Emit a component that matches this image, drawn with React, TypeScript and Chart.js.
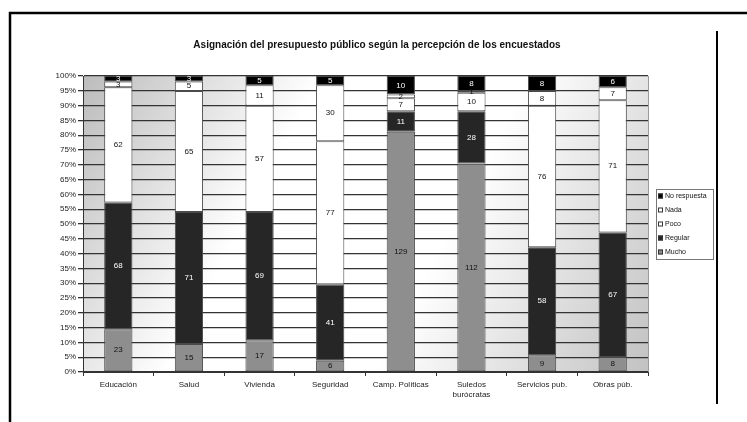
import { useEffect, useRef } from "react";
import { Chart, registerables } from "chart.js";

Chart.register(...registerables);

// Survey answers per budget item (counts of respondents)
const categories: string[][] = [
  ["Educación"],
  ["Salud"],
  ["Vivienda"],
  ["Seguridad"],
  ["Camp. Políticas"],
  ["Suledos", "burócratas"],
  ["Servicios pub."],
  ["Obras púb."],
];
const mucho = [23, 15, 17, 6, 129, 112, 9, 8];
const regular = [68, 71, 69, 41, 11, 28, 58, 67];
const poco = [62, 65, 57, 77, 7, 10, 76, 71];
const nada = [3, 5, 11, 30, 2, 1, 8, 7];
const noRespuesta = [3, 3, 5, 5, 10, 8, 8, 6];

const seriesNames = ["Mucho", "Regular", "Poco", "Nada", "No respuesta"];
const seriesColors = ["#8e8e8e", "#262626", "#ffffff", "#ffffff", "#000000"];
const labelColors = ["#111111", "#ffffff", "#111111", "#111111", "#ffffff"];

const TITLE = "Asignación del presupuesto público según la percepción de los encuestados";
const FONT = "Arial, 'Liberation Sans', sans-serif";

export default function App() {
  const canvasRef = useRef<HTMLCanvasElement | null>(null);

  useEffect(() => {
    const canvas = canvasRef.current;
    if (!canvas) return;

    const series = [mucho, regular, poco, nada, noRespuesta];
    const totals = categories.map((_, i) => series.reduce((s, arr) => s + arr[i], 0));
    const toPct = (arr: number[]) => arr.map((v, i) => (v / totals[i]) * 100);

    // Gradient plot background plus the outer frame lines
    const backgroundPlugin = {
      id: "plotBackground",
      beforeDraw(chart: any) {
        const { ctx, chartArea: a } = chart;
        ctx.save();
        ctx.fillStyle = "#ffffff";
        ctx.fillRect(0, 0, chart.width, chart.height);
        const g = ctx.createLinearGradient(a.left, a.top, a.right, a.bottom);
        g.addColorStop(0, "#bcbcbc");
        g.addColorStop(0.33, "#ffffff");
        g.addColorStop(0.62, "#ffffff");
        g.addColorStop(1, "#c2c2c2");
        ctx.fillStyle = g;
        ctx.fillRect(a.left, a.top, a.right - a.left, a.bottom - a.top);

        ctx.strokeStyle = "#000";
        ctx.lineWidth = 2.5;
        ctx.beginPath();
        ctx.moveTo(10, 422);
        ctx.lineTo(10, 13);
        ctx.lineTo(747, 13);
        ctx.stroke();
        ctx.lineWidth = 2;
        ctx.beginPath();
        ctx.moveTo(717, 31);
        ctx.lineTo(717, 404);
        ctx.stroke();

        ctx.fillStyle = "#111";
        ctx.font = `bold 10px 'Liberation Sans Narrow', 'Arial Narrow', ${FONT}`;
        ctx.textAlign = "center";
        ctx.textBaseline = "middle";
        ctx.fillText(TITLE, 377, 45);
        ctx.restore();
      },
      afterDraw(chart: any) {
        const { ctx, chartArea: a } = chart;
        ctx.save();
        ctx.strokeStyle = "#9a9a9a";
        ctx.lineWidth = 1;
        ctx.beginPath();
        ctx.moveTo(a.right + 0.5, a.top);
        ctx.lineTo(a.right + 0.5, a.bottom);
        ctx.stroke();

        // Legend box, series listed top to bottom in stack order
        const lx = 656, ly = 189, lw = 57, lh = 70;
        ctx.fillStyle = "#fff";
        ctx.fillRect(lx, ly, lw, lh);
        ctx.strokeStyle = "#777";
        ctx.strokeRect(lx + 0.5, ly + 0.5, lw, lh);
        ctx.font = `7px ${FONT}`;
        ctx.textAlign = "left";
        ctx.textBaseline = "middle";
        for (let k = 0; k < 5; k++) {
          const s = 4 - k;
          const y = ly + 7 + k * 14;
          ctx.fillStyle = seriesColors[s];
          ctx.fillRect(lx + 2, y - 2.5, 5, 5);
          ctx.strokeStyle = "#333";
          ctx.strokeRect(lx + 2.5, y - 2, 4, 4);
          ctx.fillStyle = "#111";
          ctx.fillText(seriesNames[s], lx + 9, y);
        }
        ctx.restore();
      },
    };

    // Count labels in the middle of each segment
    const valueLabels = {
      id: "valueLabels",
      afterDatasetsDraw(chart: any) {
        const { ctx } = chart;
        ctx.save();
        ctx.font = `8px ${FONT}`;
        ctx.textAlign = "center";
        ctx.textBaseline = "middle";
        chart.data.datasets.forEach((ds: any, di: number) => {
          const meta = chart.getDatasetMeta(di);
          meta.data.forEach((bar: any, i: number) => {
            const cy = (bar.y + bar.base) / 2;
            ctx.fillStyle = labelColors[di];
            ctx.fillText(String(series[di][i]), bar.x, cy);
          });
        });
        ctx.restore();
      },
    };

    const chart = new Chart(canvas, {
      type: "bar",
      data: {
        labels: categories,
        datasets: series.map((arr, si) => ({
          label: seriesNames[si],
          data: toPct(arr),
          backgroundColor: seriesColors[si],
          borderColor: "#4a4a4a",
          borderWidth: 1,
          borderSkipped: false,
          barPercentage: 0.4,
          categoryPercentage: 1,
        })),
      },
      options: {
        responsive: false,
        animation: false,
        layout: { padding: { left: 43, top: 76, right: 99, bottom: 10 } },
        plugins: {
          legend: { display: false },
          title: { display: false },
          tooltip: { enabled: false },
        },
        scales: {
          x: {
            stacked: true,
            afterFit(scale: any) {
              scale.height = 40;
            },
            grid: {
              offset: true,
              drawOnChartArea: false,
              drawTicks: true,
              tickLength: 4,
              color: "#333",
            },
            border: { display: true, color: "#333", width: 1 },
            ticks: {
              color: "#222",
              font: { size: 8, family: FONT },
              padding: 4,
              maxRotation: 0,
              autoSkip: false,
            },
          },
          y: {
            stacked: true,
            min: 0,
            max: 100,
            afterFit(scale: any) {
              scale.width = 40;
            },
            grid: {
              color: "#333",
              lineWidth: 1.3,
              drawTicks: true,
              tickLength: 5,
            },
            border: { display: true, color: "#333", width: 1 },
            ticks: {
              stepSize: 5,
              color: "#222",
              font: { size: 8, family: FONT },
              padding: 2,
              callback: (v: any) => `${v}%`,
            },
          },
        },
      },
      plugins: [backgroundPlugin, valueLabels],
    });

    return () => chart.destroy();
  }, []);

  return (
    <div style={{ position: "fixed", left: 0, top: 0, width: 747, height: 422, background: "#fff" }}>
      <canvas ref={canvasRef} width={747} height={422} style={{ width: 747, height: 422 }} />
    </div>
  );
}
